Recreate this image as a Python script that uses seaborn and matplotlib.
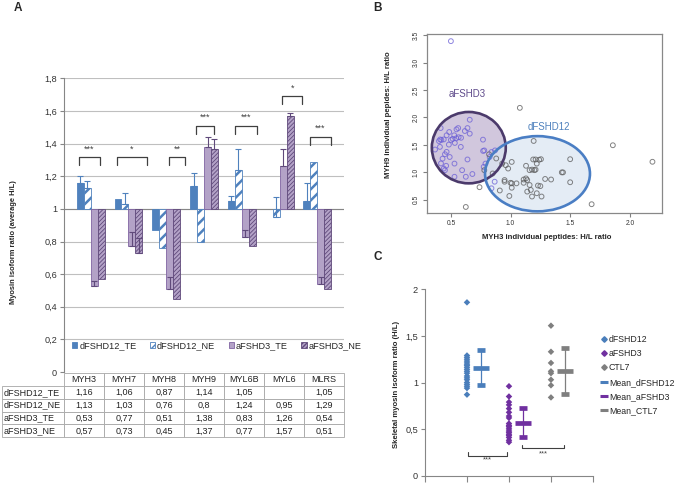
import numpy as np
import pandas as pd
import matplotlib
matplotlib.use("Agg")
import matplotlib.pyplot as plt
import seaborn as sns
from matplotlib.patches import Ellipse, Patch
from matplotlib.lines import Line2D
from matplotlib.ticker import FuncFormatter

sns.set_style("white")
plt.rcParams["font.family"] = ["Liberation Sans", "DejaVu Sans"]

# ---------------- Panel A data ----------------
genes = ["MYH3", "MYH7", "MYH8", "MYH9", "MYL6B", "MYL6", "MLRS"]
series = ["dFSHD12_TE", "dFSHD12_NE", "aFSHD3_TE", "aFSHD3_NE"]
dFSHD12_TE = [1.16, 1.06, 0.87, 1.14, 1.05, np.nan, 1.05]
dFSHD12_NE = [1.13, 1.03, 0.76, 0.8, 1.24, 0.95, 1.29]
aFSHD3_TE = [0.53, 0.77, 0.51, 1.38, 0.83, 1.26, 0.54]
aFSHD3_NE = [0.57, 0.73, 0.45, 1.37, 0.77, 1.57, 0.51]
err_dFSHD12_TE = [0.04, 0.0, 0.0, 0.08, 0.03, np.nan, 0.11]
err_dFSHD12_NE = [0.04, 0.07, 0.0, 0.0, 0.13, 0.12, 0.0]
err_aFSHD3_TE = [0.03, 0.09, 0.07, 0.06, 0.04, 0.11, 0.04]
err_aFSHD3_NE = [0.0, 0.09, 0.0, 0.06, 0.0, 0.02, 0.0]
sig_labels = ["***", "*", "**", "***", "***", "*", "***"]
sig_levels = [1.316, 1.316, 1.316, 1.51, 1.51, 1.69, 1.44]
sig_left = [-0.32, -0.30, 0.085, -0.20, -0.19, 0.07, -0.195]
sig_right = [0.245, 0.49, 0.50, 0.26, 0.40, 0.60, 0.35]
baseline = 1.0

# ---------------- Panel B data ----------------
b_aFSHD3_x = [0.50, 0.414, 0.486, 0.547, 0.561, 0.617, 0.639, 0.658, 0.658, 0.528,
              0.464, 0.41, 0.42, 0.40, 0.44, 0.483, 0.50, 0.515, 0.545, 0.565,
              0.585, 0.533, 0.408, 0.367, 0.464, 0.45, 0.49, 0.583, 0.769, 0.77,
              0.78, 0.417, 0.46, 0.44, 0.45, 0.53, 0.594, 0.625, 0.68, 0.53,
              0.43, 0.639, 0.79, 0.825, 0.84, 0.87, 0.775, 0.867, 0.84]
b_aFSHD3_y = [3.39, 1.807, 1.735, 1.783, 1.807, 1.753, 1.807, 1.958, 1.705, 1.675,
              1.675, 1.60, 1.59, 1.57, 1.60, 1.506, 1.59, 1.61, 1.62, 1.64,
              1.63, 1.536, 1.464, 1.416, 1.373, 1.33, 1.28, 1.464, 1.596, 1.39,
              1.40, 1.163, 1.12, 1.07, 1.04, 1.16, 1.04, 0.92, 0.97, 0.92,
              1.25, 1.235, 1.16, 1.28, 1.37, 1.40, 1.10, 0.83, 0.71]
b_dFSHD12_x = [1.078, 1.858, 2.19, 1.194, 0.88, 0.93, 0.96, 1.01, 1.13, 1.19,
               1.21, 1.24, 1.255, 1.22, 1.50, 1.16, 1.18, 1.20, 1.21, 0.98,
               1.13, 1.14, 1.11, 1.11, 1.05, 1.00, 1.01, 0.95, 0.95, 1.29,
               1.34, 1.43, 1.44, 1.50, 1.16, 1.17, 1.23, 1.25, 1.14, 1.18,
               1.22, 1.26, 0.99, 0.91, 1.01, 0.74, 0.625, 1.68, 0.82, 0.78, 0.85]
b_dFSHD12_y = [2.175, 1.494, 1.193, 1.572, 1.253, 1.16, 1.13, 1.19, 1.12, 1.235,
               1.235, 1.23, 1.24, 1.16, 1.24, 1.04, 1.05, 1.04, 1.05, 1.07,
               0.89, 0.86, 0.87, 0.81, 0.80, 0.81, 0.80, 0.83, 0.86, 0.88,
               0.87, 1.0, 1.0, 0.82, 0.77, 0.68, 0.76, 0.75, 0.65, 0.56,
               0.62, 0.56, 0.57, 0.67, 0.72, 0.73, 0.37, 0.42, 1.33, 1.04, 0.98]
ell_aFSHD3 = dict(center=(0.65, 1.45), width=0.62, height=1.30)
ell_dFSHD12 = dict(center=(1.226, 0.975), width=0.88, height=1.37)

# ---------------- Panel C data ----------------
c_groups = ["dFSHD12", "aFSHD3", "CTL7"]
c_dFSHD12 = [1.86, 1.29, 1.27, 1.25, 1.23, 1.21, 1.19, 1.18, 1.16, 1.14,
             1.12, 1.10, 1.07, 1.05, 1.03, 1.00, 0.98, 0.96, 0.94, 0.87]
c_aFSHD3 = [0.96, 0.85, 0.79, 0.76, 0.72, 0.68, 0.64, 0.62, 0.56, 0.54,
            0.53, 0.51, 0.49, 0.47, 0.46, 0.44, 0.43, 0.41, 0.38, 0.36]
c_CTL7 = [1.61, 1.33, 1.21, 1.12, 1.10, 1.03, 0.97, 0.84]
c_means = [1.16, 0.57, 1.12]
c_sd = [0.19, 0.155, 0.245]

# ---------------- styles ----------------
BLUE = "#4F81BD"
PURP_L = "#B3A2C7"
PURP_D = "#604A7B"
fmt = lambda v: "" if pd.isna(v) else f"{round(v, 2):g}".replace(".", ",")

fig = plt.figure(figsize=(6.86, 4.83), dpi=100)

# ================= Panel A =================
axA = fig.add_axes([0.0933, 0.2298, 0.4082, 0.6079])
vals_all = [dFSHD12_TE, dFSHD12_NE, aFSHD3_TE, aFSHD3_NE]
errs_all = [err_dFSHD12_TE, err_dFSHD12_NE, err_aFSHD3_TE, err_aFSHD3_NE]
rows = []
for s, vals in zip(series, vals_all):
    for g, v in zip(genes, vals):
        rows.append(dict(gene=g, series=s, value=v))
dfA = pd.DataFrame(rows).dropna()
dfA["delta"] = dfA["value"] - baseline
bar_width = 0.74
styles = [
    dict(fc=BLUE, ec=BLUE, hatch=None, hlw=1.0),
    dict(fc="white", ec=BLUE, hatch="///", hlw=1.8),
    dict(fc=PURP_L, ec="#8064A2", hatch=None, hlw=1.0),
    dict(fc=PURP_L, ec=PURP_D, hatch="////////", hlw=0.6),
]
sns.barplot(data=dfA, x="gene", y="delta", hue="series", order=genes, hue_order=series,
            width=bar_width, palette=[s["fc"] for s in styles], saturation=1,
            errorbar=None, legend=False, ax=axA, zorder=2)
for p in axA.patches:
    cx = p.get_x() + p.get_width() / 2
    i = int(round(cx))
    j = int(round((cx - i) / (bar_width / 4) + 1.5))
    st = styles[j]
    p.set_facecolor(st["fc"])
    p.set_edgecolor(st["ec"])
    p.set_linewidth(0.6)
    if st["hatch"]:
        p.set_hatch(st["hatch"])
        if hasattr(p, "set_hatch_linewidth"):
            p.set_hatch_linewidth(st["hlw"])

for j, (vals, errs) in enumerate(zip(vals_all, errs_all)):
    col = BLUE if j < 2 else PURP_D
    for i, (v, e) in enumerate(zip(vals, errs)):
        if pd.isna(v) or pd.isna(e) or e <= 0:
            continue
        x = i + (j - 1.5) * bar_width / 4
        axA.errorbar(x, v - baseline, yerr=[[0], [e]], color=col, lw=0.8,
                     capsize=2.2, capthick=0.8, zorder=3)

for i, (lab, lev, l, r) in enumerate(zip(sig_labels, sig_levels, sig_left, sig_right)):
    y = lev - baseline
    axA.plot([i + l, i + l, i + r, i + r], [y - 0.05, y, y, y - 0.05],
             color="#404040", lw=0.9, zorder=3)
    axA.text(i + (l + r) / 2, y + 0.025, lab, ha="center", va="bottom",
             fontsize=6.5, color="#404040")

axA.set_ylim(-1, 0.8)
axA.set_yticks(np.arange(-1, 0.81, 0.2))
axA.yaxis.set_major_formatter(FuncFormatter(lambda v, p: fmt(v + baseline)))
axA.tick_params(axis="y", labelsize=6.6, length=3, color="#868686", pad=2, left=True,
                labelcolor="#333333")
axA.tick_params(axis="x", bottom=False, labelbottom=False)
axA.set_xlabel("")
axA.set_ylabel("")
axA.yaxis.grid(True, color="#BFBFBF", lw=0.8)
axA.set_axisbelow(True)
axA.axhline(0, color="#868686", lw=0.8, zorder=1)
for s in ["top", "right", "bottom"]:
    axA.spines[s].set_visible(False)
axA.spines["left"].set_color("#868686")
axA.spines["left"].set_linewidth(0.8)

handles = [Patch(facecolor=st["fc"], edgecolor=st["ec"], hatch=st["hatch"], lw=0.6)
           for st in styles]
axA.legend(handles, series, ncol=4, loc="center left", bbox_to_anchor=(0.015, 0.089),
           frameon=False, fontsize=6.6, handlelength=0.6, handleheight=0.6,
           handletextpad=0.2, columnspacing=1.45, borderaxespad=0)

cell_text = [[s] + [fmt(v) for v in vals] for s, vals in zip(series, vals_all)]
tbl = axA.table(cellText=cell_text, colLabels=[""] + genes, cellLoc="center",
                colWidths=[62] + [40] * 7, bbox=[-0.2214, -0.2222, 1.2214, 0.219])
tbl.auto_set_font_size(False)
tbl.set_fontsize(6.5)
for (r, c), cell in tbl.get_celld().items():
    cell.set_edgecolor("#A6A6A6")
    cell.set_linewidth(0.6)
    cell.get_text().set_color("#222222")
    if c == 0:
        cell.PAD = 0.03
        cell.set_text_props(ha="left")
    if r == 0 and c == 0:
        cell.visible_edges = ""

fig.text(14 / 686, 1 - 242 / 483, "Myosin isoform ratio (average H/L)", rotation=90,
         ha="center", va="center", fontsize=5.4, fontweight="bold")

# ================= Panel B =================
axB = fig.add_axes([0.622, 0.559, 0.343, 0.3706])
for e, fc in [(ell_aFSHD3, (0.70, 0.64, 0.78, 0.6)), (ell_dFSHD12, (0.86, 0.90, 0.95, 0.75))]:
    axB.add_patch(Ellipse(e["center"], e["width"], e["height"], facecolor=fc,
                          edgecolor="none", zorder=1))
dfB = pd.DataFrame({
    "x": b_aFSHD3_x + b_dFSHD12_x,
    "y": b_aFSHD3_y + b_dFSHD12_y,
    "group": ["aFSHD3"] * len(b_aFSHD3_x) + ["dFSHD12"] * len(b_dFSHD12_x),
})
sns.scatterplot(data=dfB, x="x", y="y", hue="group",
                palette={"aFSHD3": "#6A5ED6", "dFSHD12": "#5A5A5A"},
                s=12, legend=False, ax=axB, zorder=2)
coll = axB.collections[-1]
fcs = coll.get_facecolors().copy()
fcs[:, 3] = 0.75
coll.set_edgecolors(fcs)
coll.set_facecolors("none")
coll.set_linewidth(0.7)
for e, ec in [(ell_aFSHD3, "#4B3A6B"), (ell_dFSHD12, "#4A7EC4")]:
    axB.add_patch(Ellipse(e["center"], e["width"], e["height"], facecolor="none",
                          edgecolor=ec, lw=1.9, zorder=3))
axB.text(0.64, 2.42, "aFSHD3", color="#5F4B8B", fontsize=7, ha="center", va="center")
axB.text(1.32, 1.83, "dFSHD12", color="#4F81BD", fontsize=7, ha="center", va="center")
axB.set_xlim(0.297, 2.27)
axB.set_ylim(0.26, 3.52)
axB.set_xticks([0.5, 1.0, 1.5, 2.0])
axB.set_xticklabels(["0.5", "1.0", "1.5", "2.0"])
axB.set_yticks([0.5, 1.0, 1.5, 2.0, 2.5, 3.0, 3.5])
axB.set_yticklabels(["0.5", "1.0", "1.5", "2.0", "2.5", "3.0", "3.5"], rotation=90, va="center")
axB.tick_params(labelsize=4.8, length=3, color="#808080", labelcolor="#333333", pad=2,
                bottom=True, left=True, direction="out")
for s in axB.spines.values():
    s.set_color("#888888")
    s.set_linewidth(0.9)
axB.set_xlabel("MYH3 individual peptides: H/L ratio", fontsize=5.6, fontweight="bold")
axB.set_ylabel("MYH9 individual pepides: H/L ratio", fontsize=5.6, fontweight="bold")
axB.xaxis.set_label_coords(0.51, -0.117)
axB.yaxis.set_label_coords(-0.147, 0.547)

# ================= Panel C =================
axC = fig.add_axes([0.6195, 0.0151, 0.2449, 0.3859])
c_vals = [c_dFSHD12, c_aFSHD3, c_CTL7]
c_colors = ["#4A7EBB", "#7030A0", "#7F7F7F"]
dfC = pd.DataFrame({
    "group": sum([[g] * len(v) for g, v in zip(c_groups, c_vals)], []),
    "value": sum(c_vals, []),
})
dfC["xpos"] = dfC["group"].map({g: k + 1 for k, g in enumerate(c_groups)})
sns.scatterplot(data=dfC, x="xpos", y="value", hue="group", hue_order=c_groups,
                palette=c_colors, marker="D", s=11, linewidth=0, legend=False,
                ax=axC, zorder=3)
mean_offset = 0.33
for k, (m, sd, col) in enumerate(zip(c_means, c_sd, c_colors)):
    axC.errorbar(k + 1 + mean_offset, m, yerr=sd, fmt="_", color=col, markersize=11,
                 mew=3.4, capsize=3, capthick=0.9, elinewidth=0.9, zorder=3)
# significance brackets
axC.plot([1.03, 1.03, 1.95, 1.95], [0.257, 0.214, 0.214, 0.257], color="#404040", lw=0.8)
axC.text(1.49, 0.168, "***", ha="center", va="center", fontsize=5.5, color="#404040")
axC.plot([2.32, 2.32, 3.31, 3.31], [0.329, 0.293, 0.293, 0.329], color="#404040", lw=0.8)
axC.text(2.82, 0.232, "***", ha="center", va="center", fontsize=5.5, color="#404040")
axC.set_xlim(0, 4)
axC.set_ylim(0, 2)
axC.set_xticks([0, 1, 2, 3, 4])
axC.set_xticklabels([])
axC.set_yticks([0, 0.5, 1, 1.5, 2])
axC.yaxis.set_major_formatter(FuncFormatter(lambda v, p: fmt(v)))
axC.tick_params(axis="y", labelsize=6.6, length=3, color="#868686", left=True, pad=2,
                labelcolor="#333333")
axC.tick_params(axis="x", length=4, color="#868686", bottom=True, direction="out")
axC.set_xlabel("")
axC.set_ylabel("")
for s in ["top", "right"]:
    axC.spines[s].set_visible(False)
for s in ["left", "bottom"]:
    axC.spines[s].set_color("#868686")
    axC.spines[s].set_linewidth(0.8)
fig.text(397 / 686, 1 - 384 / 483, "Skeletal myosin isoform ratio (H/L)", rotation=90,
         ha="center", va="center", fontsize=5.6, fontweight="bold")

leg_handles = [Line2D([], [], marker="D", color=c, linestyle="", markersize=2.8) for c in c_colors]
leg_handles += [Line2D([], [], marker="_", color=c, linestyle="", markersize=6, mew=2.2)
                for c in c_colors]
leg_labels = c_groups + ["Mean_" + g for g in c_groups]
fig.legend(leg_handles, leg_labels, loc="upper left", bbox_to_anchor=(601 / 686, 1 - 335 / 483),
           frameon=False, fontsize=6.3, handlelength=0.6, handletextpad=0.3,
           labelspacing=0.6, borderaxespad=0, borderpad=0)

# panel letters
fig.text(18 / 686, 1 - 8 / 483, "A", fontsize=8.5, fontweight="bold", ha="center", va="center")
fig.text(378 / 686, 1 - 8 / 483, "B", fontsize=8.5, fontweight="bold", ha="center", va="center")
fig.text(378 / 686, 1 - 257 / 483, "C", fontsize=8.5, fontweight="bold", ha="center", va="center")

fig.savefig("out.png", dpi=100)
